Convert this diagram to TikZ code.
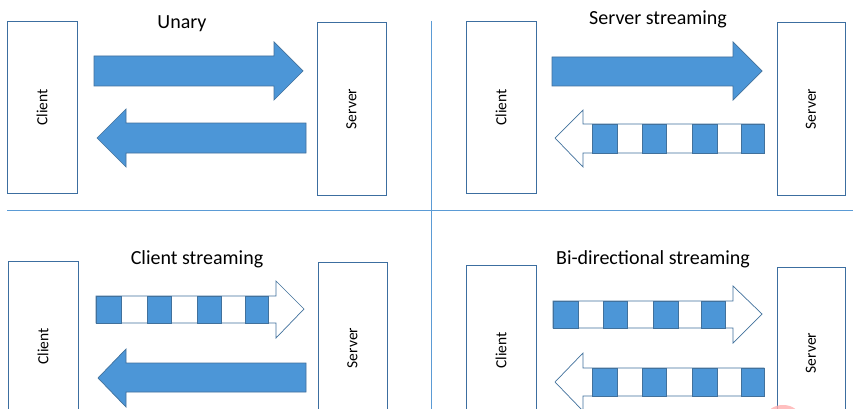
\documentclass[tikz,border=0pt]{standalone}
\usepackage{fontspec}
\setmainfont{Carlito}
\definecolor{arrfill}{RGB}{76,150,215}
\definecolor{arrline}{RGB}{65,113,156}
\definecolor{boxline}{RGB}{60,110,160}
\definecolor{divline}{RGB}{91,155,213}
\definecolor{blob}{RGB}{255,175,175}
\tikzset{
  party/.style={draw=boxline, line width=1pt, fill=white, rotate=90, inner sep=0pt, outer sep=0pt,
    font=\fontsize{15.5}{18}\selectfont},
  title/.style={anchor=base, inner sep=0pt, font=\fontsize{20}{24}\selectfont},
  solidarrow/.style={draw=arrline, line width=0.7pt, fill=arrfill, line join=miter},
  hollowarrow/.style={draw=arrline, line width=0.7pt, fill=white, line join=miter},
  packet/.style={draw=arrline, line width=0.7pt, fill=arrfill},
  divider/.style={draw=divline, line width=1pt}
}
\begin{document}
\begin{tikzpicture}[x=1pt,y=-1pt]
\clip (0,0) rectangle (861,409);
\fill[white] (0,0) rectangle (861,409);
% dividers
\coordinate (hl) at (7,210);
\coordinate (hr) at (853,210);
\coordinate (vt) at (431,21);
\coordinate (vb) at (431,409);
\draw[divider] (hl) -- (hr);
\draw[divider] (vt) -- (vb);

% ---------- Unary ----------
\node[title] (t1) at (182,29) {Unary};
\node[party, minimum width=171pt, minimum height=70pt] (c1) at (42,107.5) {Client};
\node[party, minimum width=172pt, minimum height=69pt] (s1) at (351.5,109) {Server};
\draw[solidarrow] (94,56) -- (274,56) -- (274,42) -- (303,71) -- (274,100) -- (274,86) -- (94,86) -- cycle;
\draw[solidarrow] (306,123) -- (126,123) -- (126,109) -- (97,138) -- (126,167) -- (126,153) -- (306,153) -- cycle;

% ---------- Server streaming ----------
\node[title] (t2) at (658,25) {Server streaming};
\node[party, minimum width=171pt, minimum height=70pt] (c2) at (501,107.5) {Client};
\node[party, minimum width=172pt, minimum height=68pt] (s2) at (811,109) {Server};
\draw[solidarrow] (552,57) -- (733,57) -- (733,42) -- (762,71) -- (733,100) -- (733,86) -- (552,86) -- cycle;
\draw[hollowarrow] (764,124) -- (583,124) -- (583,110) -- (555,138) -- (583,167) -- (583,153) -- (764,153) -- cycle;
\foreach \a/\b in {592/617, 642/666, 692/717, 741/764}
  \draw[packet] (\a,124) rectangle (\b,153);

% ---------- Client streaming ----------
\node[title] (t3) at (197,264) {Client streaming};
\node[party, minimum width=171pt, minimum height=70pt] (c3) at (43,346.5) {Client};
\node[party, minimum width=172pt, minimum height=69pt] (s3) at (352.5,348) {Server};
\draw[hollowarrow] (96,296) -- (276,296) -- (276,281) -- (304,309) -- (276,338) -- (276,323) -- (96,323) -- cycle;
\foreach \a/\b in {96/121, 147/171, 197/221, 245/268}
  \draw[packet] (\a,296) rectangle (\b,323);
\draw[solidarrow] (306,363) -- (126,363) -- (126,349) -- (98,378) -- (126,407) -- (126,392) -- (306,392) -- cycle;

% ---------- Bi-directional streaming ----------
\node[title] (t4) at (653,264) {Bi-directional streaming};
\node[party, minimum width=171pt, minimum height=70pt] (c4) at (501,350.5) {Client};
\node[party, minimum width=172pt, minimum height=68pt] (s4) at (811,353) {Server};
\draw[hollowarrow] (553,301) -- (733,301) -- (733,286) -- (762,314) -- (733,343) -- (733,328) -- (553,328) -- cycle;
\foreach \a/\b in {553/578, 603/627, 653/678, 701/725}
  \draw[packet] (\a,301) rectangle (\b,328);
\draw[hollowarrow] (764,368) -- (583,368) -- (583,353) -- (555,382) -- (583,411) -- (583,396) -- (764,396) -- cycle;
\foreach \a/\b in {592/617, 642/666, 692/717, 741/764}
  \draw[packet] (\a,368) rectangle (\b,396);

% stray pink mark at the bottom edge
\fill[blob, opacity=0.8] (783,416) ellipse [x radius=16pt, y radius=11pt];
\end{tikzpicture}
\end{document}
